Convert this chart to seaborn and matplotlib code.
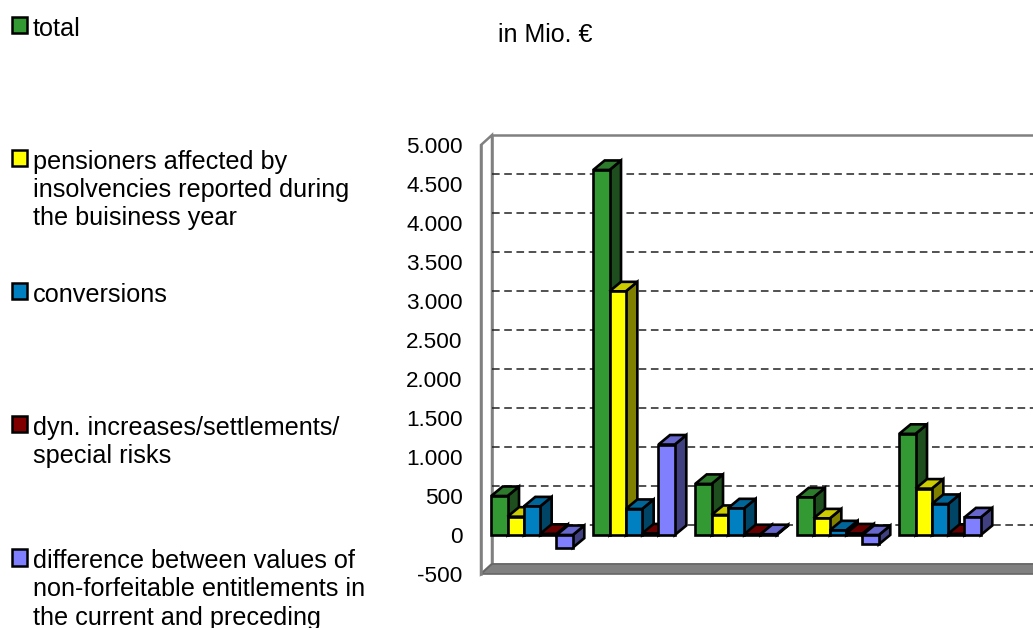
import numpy as np
import pandas as pd
import matplotlib
matplotlib.use("Agg")
import matplotlib.pyplot as plt
import seaborn as sns
from matplotlib.patches import Polygon, Patch
from matplotlib.ticker import FuncFormatter

# ---------------- data ----------------
categories = ["1", "2", "3", "4", "5"]
series_names = ["total", "pensioners", "conversions", "dyn", "difference"]
legend_labels = [
    "total",
    "pensioners affected by\ninsolvencies reported during\nthe buisiness year",
    "conversions",
    "dyn. increases/settlements/\nspecial risks",
    "difference between values of\nnon-forfeitable entitlements in\nthe current and preceding",
]
total = [500, 4680, 655, 483, 1297]
pensioners = [235, 3124, 257, 213, 595]
conversions = [367, 334, 342, 60, 398]
dyn_increases = [15, 20, 10, 20, 15]
difference = [-162, 1160, 10, -120, 226]
y_ticks = list(range(-500, 5001, 500))
unit_label = "in Mio. €"

front_colors = ["#339933", "#FFFF00", "#0080C0", "#800000", "#8080FF"]
side_colors = ["#1E4D1E", "#808000", "#004466", "#400000", "#404080"]
top_colors = ["#2D7A2D", "#CCCC00", "#006699", "#660000", "#6666CC"]

values = [total, pensioners, conversions, dyn_increases, difference]
df = pd.DataFrame({
    "category": [c for _ in series_names for c in categories],
    "series": [s for s in series_names for _ in categories],
    "value": [v for vals in values for v in vals],
})

# ---------------- style ----------------
sns.set_style("white")
plt.rcParams["font.family"] = ["Liberation Sans", "DejaVu Sans"]
plt.rcParams["text.color"] = "black"
plt.rcParams["ytick.labelcolor"] = "black"

W, H = 1033, 628
fig = plt.figure(figsize=(W / 100, H / 100), dpi=100)
ax = fig.add_axes([481 / W, (H - 574) / H, 612 / W, 429 / H])

sns.barplot(data=df, x="category", y="value", hue="series",
            order=categories, hue_order=series_names,
            palette=dict(zip(series_names, front_colors)),
            width=0.8, saturation=1, errorbar=None,
            edgecolor="black", linewidth=1.9, legend=False, ax=ax)

ax.set_xlim(-0.5, 5.5)
ax.set_ylim(y_ticks[0], y_ticks[-1])
ax.set_xticks([])
ax.set_xlabel("")
ax.set_ylabel("")
ax.set_yticks(y_ticks)
ax.yaxis.set_major_formatter(FuncFormatter(lambda v, p: f"{int(v):,}".replace(",", ".")))
ax.tick_params(axis="y", labelsize=16.2, length=6.5, width=1.5, color="#808080",
               labelcolor="black", pad=6.8)
ax.patch.set_visible(False)
for s in ["top", "right", "bottom"]:
    ax.spines[s].set_visible(False)
ax.spines["left"].set_color("#808080")
ax.spines["left"].set_linewidth(1.8)
ax.spines["left"].set_zorder(30)

inv = ax.transData.inverted()
def offset(px, py):
    a = ax.transData.transform((0.0, 0.0))
    b = inv.transform((a[0] + px, a[1] + py))
    return b[0], b[1]

wdx, wdy = offset(11, 10)
bdx, bdy = offset(11.5, 9.5)
x0, x1 = ax.get_xlim()
y0, y1 = ax.get_ylim()

# back wall
ax.add_patch(Polygon([(x0 + wdx, y0 + wdy), (x1 + wdx, y0 + wdy), (x1 + wdx, y1 + wdy), (x0 + wdx, y1 + wdy)],
                     closed=True, facecolor="white", edgecolor="#808080", lw=1.8, zorder=0.2, clip_on=False))
# left wall
ax.add_patch(Polygon([(x0, y0), (x0, y1), (x0 + wdx, y1 + wdy), (x0 + wdx, y0 + wdy)],
                     closed=True, facecolor="white", edgecolor="#808080", lw=1.8, zorder=0.3, clip_on=False))
# floor
ax.add_patch(Polygon([(x0, y0), (x1, y0), (x1 + wdx, y0 + wdy), (x0 + wdx, y0 + wdy)],
                     closed=True, facecolor="#808080", edgecolor="#666666", lw=1.2, zorder=0.4, clip_on=False))
# gridlines on back wall
grid_vals = [v for v in y_ticks if y0 < v < y1]
ax.hlines([v + wdy for v in grid_vals], x0 + wdx, x1 + wdx, colors="#222222",
          linewidth=1.1, linestyles=(0, (5, 3)), zorder=0.5, clip_on=False)

# 3D faces of bars
for i, cont in enumerate(ax.containers):
    for rect in cont:
        rx, rw = rect.get_x(), rect.get_width()
        ry, rh = rect.get_y(), rect.get_height()
        lo, hi = min(ry, ry + rh), max(ry, ry + rh)
        rect.set_zorder(3 + 2 * i)
        rect.set_clip_on(False)
        side = Polygon([(rx + rw, lo), (rx + rw, hi), (rx + rw + bdx, hi + bdy), (rx + rw + bdx, lo + bdy)],
                       closed=True, facecolor=side_colors[i], edgecolor="black", lw=1.9,
                       zorder=2 + 2 * i, clip_on=False)
        top = Polygon([(rx, hi), (rx + rw, hi), (rx + rw + bdx, hi + bdy), (rx + bdx, hi + bdy)],
                      closed=True, facecolor=top_colors[i], edgecolor="black", lw=1.9,
                      zorder=2 + 2 * i, clip_on=False)
        ax.add_patch(side)
        ax.add_patch(top)

# unit label
fig.text(545 / W, 1 - 35 / H, unit_label, ha="center", va="center", fontsize=18, color="black")

# legend
maxlines = max(l.count("\n") + 1 for l in legend_labels)
padded = [l + "\n " * (maxlines - 1 - l.count("\n")) for l in legend_labels]
handles = [Patch(facecolor=c, edgecolor="black", lw=1.8) for c in front_colors]
leg = fig.legend(handles=handles, labels=padded, loc="upper left",
                 bbox_to_anchor=(11.7 / W, 1 - 16.5 / H), frameon=False,
                 borderpad=0, borderaxespad=0, handlelength=0.62, handleheight=0.62,
                 handletextpad=0.22, labelspacing=2.09, prop={"size": 18.2})
for t in leg.get_texts():
    t.set_linespacing(1.22)
    t.set_color("black")
for col in leg._legend_handle_box.get_children():
    for hp in col.get_children():
        hp.align = "top"

fig.savefig("out.png", dpi=100)
